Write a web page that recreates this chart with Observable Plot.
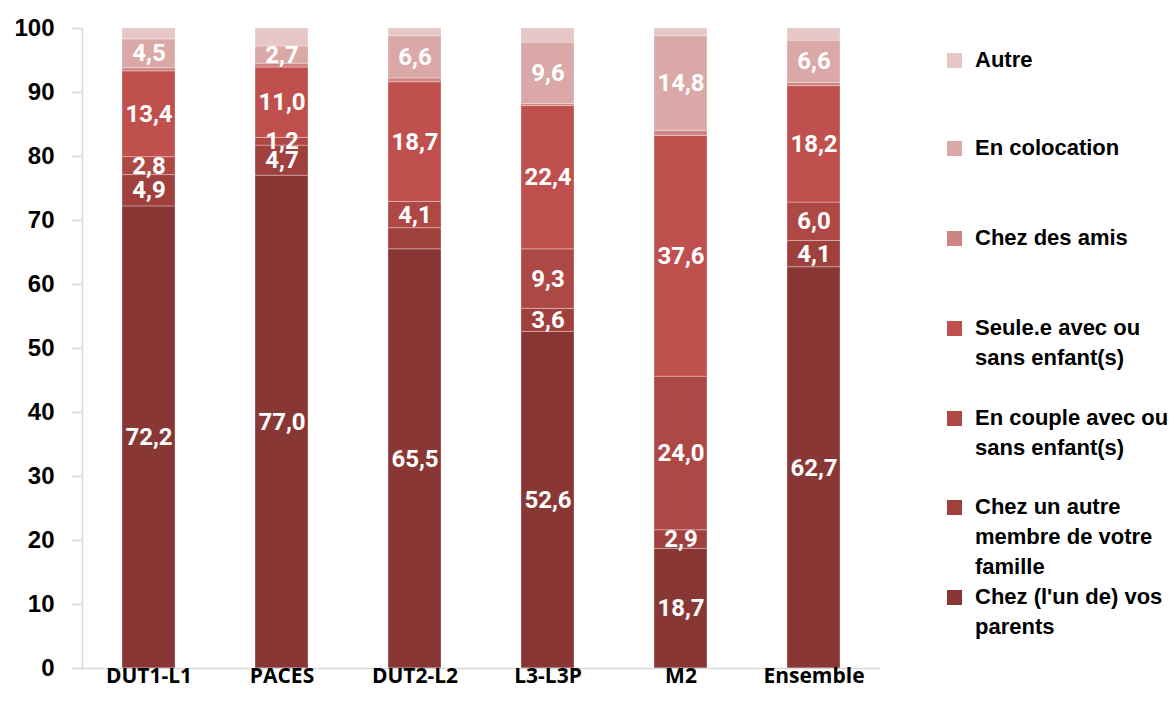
<!DOCTYPE html>
<html>
<head>
<meta charset="utf-8">
<script src="https://cdn.jsdelivr.net/npm/d3@7"></script>
<script src="https://cdn.jsdelivr.net/npm/@observablehq/plot@0.6"></script>
<style>
  body { margin: 0; background: #fff; }
  #wrap { position: relative; width: 1173px; height: 714px; overflow: hidden; }
  #chart { position: absolute; left: 0; top: 0; }
  #legend { position: absolute; left: 0; top: 0; font-family: "Liberation Sans", Arial, sans-serif; font-weight: bold; font-size: 22px; color: #000; }
  .li { position: absolute; left: 947px; width: 226px; line-height: 30px; }
  .sw { position: absolute; left: 0; top: 8px; width: 15px; height: 15px; }
  .lt { position: absolute; left: 28px; top: 0; width: 200px; white-space: nowrap; }
</style>
</head>
<body>
<div id="wrap">
  <div id="chart"></div>
  <div id="legend"></div>
</div>
<script>
const categories = ["DUT1-L1", "PACES", "DUT2-L2", "L3-L3P", "M2", "Ensemble"];
const seriesNames = [
  "Chez (l'un de) vos parents",
  "Chez un autre membre de votre famille",
  "En couple avec ou sans enfant(s)",
  "Seule.e avec ou sans enfant(s)",
  "Chez des amis",
  "En colocation",
  "Autre"
];
const parents      = [72.2, 77.0, 65.5, 52.6, 18.7, 62.7];
const autreMembre  = [4.9, 4.7, 3.3, 3.6, 2.9, 4.1];
const couple       = [2.8, 1.2, 4.1, 9.3, 24.0, 6.0];
const seule        = [13.4, 11.0, 18.7, 22.4, 37.6, 18.2];
const amis         = [0.5, 0.6, 0.6, 0.3, 0.8, 0.5];
const colocation   = [4.5, 2.7, 6.6, 9.6, 14.8, 6.6];
const autre        = [1.7, 2.8, 1.2, 2.2, 1.2, 1.9];
const seriesValues = [parents, autreMembre, couple, seule, amis, colocation, autre];
const colors = ["#893735", "#A0403D", "#AE4845", "#C0504D", "#CE8482", "#D9A8A7", "#E6C6C6"];
const yTicks = [0, 10, 20, 30, 40, 50, 60, 70, 80, 90, 100];
// labels not displayed in the original
const unlabeledSeries = ["Chez des amis", "Autre"];
const unlabeledCells = [["DUT2-L2", "Chez un autre membre de votre famille"]];

const data = [];
seriesNames.forEach((s, si) => {
  categories.forEach((c, ci) => {
    data.push({cat: c, series: s, value: seriesValues[si][ci]});
  });
});
const fmt = v => v.toFixed(1).replace(".", ",");
const labelOf = d => {
  if (unlabeledSeries.includes(d.series)) return null;
  if (unlabeledCells.some(([c, s]) => c === d.cat && s === d.series)) return null;
  return fmt(d.value);
};

const plot = Plot.plot({
  width: 900,
  height: 714,
  marginLeft: 82,
  marginRight: 20,
  marginTop: 28,
  marginBottom: 46,
  style: { fontFamily: "Liberation Sans, Arial, sans-serif", background: "transparent" },
  x: { domain: categories, paddingInner: 0.6, paddingOuter: 0.3, label: null },
  y: { domain: [0, 100], label: null },
  color: { domain: seriesNames, range: colors },
  marks: [
    Plot.frame({ anchor: "left", stroke: "#d9d9d9", strokeWidth: 1.5 }),
    Plot.axisY({ ticks: yTicks, tickSize: 10, stroke: "#d9d9d9", strokeWidth: 1.5, text: null, label: null }),
    Plot.axisY({ ticks: yTicks, tickSize: 0, tickPadding: 28, fill: "#000", fontSize: 24, fontWeight: "bold", label: null, tickFormat: d => String(d) }),
    Plot.barY(data, Plot.stackY({ x: "cat", y: "value", z: "series", fill: "series", stroke: "#fff", strokeOpacity: 0.3, strokeWidth: 1 })),
    Plot.text(data, Plot.stackY({ x: "cat", y: "value", z: "series", text: labelOf, fill: "#fff", fontSize: 24, fontWeight: "bold", fontFamily: "Roboto, sans-serif" })),
    Plot.ruleY([0], { stroke: "#d9d9d9", strokeWidth: 1.5 }),
    Plot.axisX({ tickSize: 0, tickPadding: 0, fontSize: 21, fontWeight: "bold", fontFamily: "Open Sans, sans-serif", fill: "#000", label: null })
  ]
});
document.getElementById("chart").appendChild(plot);

// legend
const legendTops = [45, 133, 223, 313, 403, 492, 582];
const legendLabels = [
  ["Autre"],
  ["En colocation"],
  ["Chez des amis"],
  ["Seule.e avec ou", "sans enfant(s)"],
  ["En couple avec ou", "sans enfant(s)"],
  ["Chez un autre", "membre de votre", "famille"],
  ["Chez (l'un de) vos", "parents"]
];
const legendColors = ["#E6C6C6", "#D9A8A7", "#CE8482", "#C0504D", "#AE4845", "#A0403D", "#893735"];
const leg = document.getElementById("legend");
legendLabels.forEach((lines, i) => {
  const item = document.createElement("div");
  item.className = "li";
  item.style.top = legendTops[i] + "px";
  const sw = document.createElement("div");
  sw.className = "sw";
  sw.style.background = legendColors[i];
  const lt = document.createElement("div");
  lt.className = "lt";
  lt.innerHTML = lines.join("<br>");
  item.appendChild(sw);
  item.appendChild(lt);
  leg.appendChild(item);
});
</script>
</body>
</html>
